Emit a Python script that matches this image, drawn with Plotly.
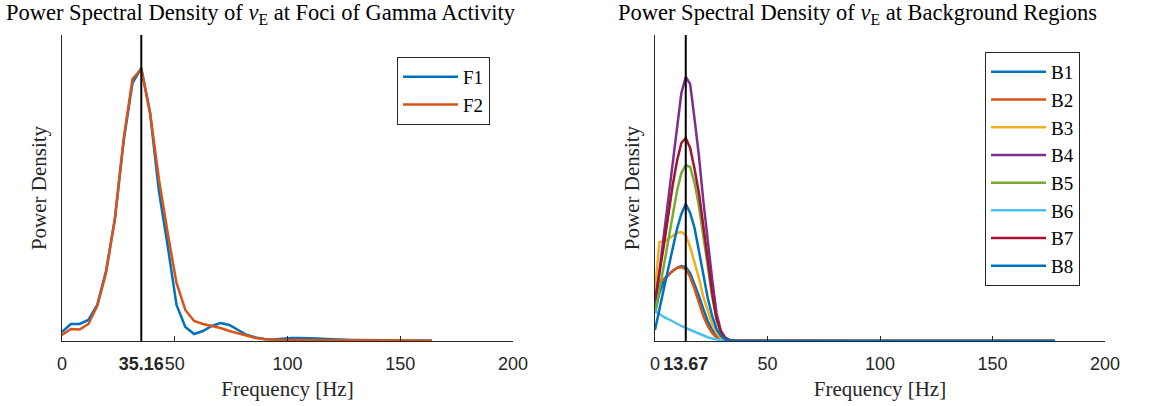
import plotly.graph_objects as go

# ---------------- data ----------------
freq_left = [0, 3.91, 7.81, 11.72, 15.62, 19.53, 23.44, 27.34, 31.25, 35.16, 39.06, 42.97,
             46.88, 50.78, 54.69, 58.59, 62.5, 66.41, 70.31, 74.22, 78.12, 82.03, 85.94,
             89.84, 93.75, 97.66, 101.56, 105.47, 109.38, 113.28, 117.19, 121.09, 125.0,
             128.91, 132.81, 136.72, 140.62, 144.53, 148.44, 152.34, 156.25, 160.16, 164.06]
F1 = [9, 17, 17, 21, 36, 70, 122, 200, 258, 273, 228, 150, 95, 36, 14, 7, 10, 15, 18, 16,
      11, 6, 3.5, 2, 1.5, 2.5, 3, 3, 3, 2.5, 2, 1.5, 1.2, 1, 1, 0.8, 0.8, 0.7, 0.7, 0.6,
      0.6, 0.5, 0.5]
F2 = [6, 12, 11.5, 17, 35, 68, 122, 202, 262, 272, 228, 162, 108, 58, 31, 20, 17, 15, 13,
      10, 7.5, 5, 3, 1.8, 1.2, 1, 0.9, 0.8, 0.8, 0.7, 0.7, 0.6, 0.6, 0.5, 0.5, 0.5, 0.4,
      0.4, 0.4, 0.4, 0.3, 0.3, 0.3]

freq_right = [0, 1.95, 3.91, 5.86, 7.81, 9.77, 11.72, 13.67, 15.62, 17.58, 19.53, 21.48,
              23.44, 25.39, 27.34, 29.30, 31.25, 33.20, 35.16, 50, 100, 150, 177.73]
B1 = [28, 48, 60, 66, 70, 73, 75, 74, 68, 57, 45, 32, 20, 11, 5, 2, 0.6, 0.2, 0.1, 0, 0, 0, 0]
B2 = [38, 58, 62, 66, 70, 73, 74, 72, 64, 52, 38, 25, 15, 8, 3.5, 1.2, 0.4, 0.1, 0.05, 0, 0, 0, 0]
B3 = [51, 99, 99, 102, 105, 108, 109, 106, 94, 78, 63, 44, 30, 17, 8, 3, 1, 0.3, 0.1, 0, 0, 0, 0]
B4 = [34, 70, 105, 140, 175, 215, 248, 264, 257, 222, 185, 140, 100, 62, 28, 10, 3, 1, 0.3, 0, 0, 0, 0]
B5 = [28, 50, 75, 100, 125, 150, 168, 176, 174, 158, 135, 105, 75, 45, 22, 8, 2.5, 0.7, 0.2, 0, 0, 0, 0]
B6 = [30, 27, 24, 22, 19.5, 17, 15, 13, 11, 9, 7, 5.2, 3.8, 2.5, 1.5, 0.8, 0.4, 0.2, 0.1, 0, 0, 0, 0]
B7 = [41, 66, 95, 125, 155, 180, 198, 203, 193, 172, 148, 115, 80, 48, 22, 9, 3, 0.8, 0.2, 0, 0, 0, 0]
B8 = [11, 30, 52, 72, 92, 112, 127, 137, 128, 113, 90, 66, 43, 25, 12, 5, 1.5, 0.5, 0.1, 0, 0, 0, 0]

peak_left = 35.16
peak_right = 13.67
left_names = ["F1", "F2"]
right_names = ["B1", "B2", "B3", "B4", "B5", "B6", "B7", "B8"]
xticks = [0, 50, 100, 150, 200]

# ---------------- styles ----------------
colors_left = ["#0072BD", "#D95319"]
colors_right = ["#0072BD", "#D95319", "#EDB120", "#7E2F8E", "#77AC30", "#4DBEEE", "#A2142F", "#0072BD"]
SERIF = "Liberation Serif"
SANS = "Liberation Sans, Arial"
AX = "#262626"
W, H = 1153, 406

fig = go.Figure()
for name, ys, c in zip(left_names, [F1, F2], colors_left):
    fig.add_trace(go.Scatter(x=freq_left, y=ys, name=name, mode="lines",
                             line=dict(color=c, width=2.5), xaxis="x", yaxis="y",
                             legend="legend"))
for name, ys, c in zip(right_names, [B1, B2, B3, B4, B5, B6, B7, B8], colors_right):
    fig.add_trace(go.Scatter(x=freq_right, y=ys, name=name, mode="lines",
                             line=dict(color=c, width=2.5), xaxis="x2", yaxis="y2",
                             legend="legend2"))

def px_x(p):
    return p / W

def px_y(p):
    return 1 - p / H

ydom = [px_y(341), px_y(35)]

def xaxis_cfg(dom, peak, anchor):
    vals = sorted(xticks + [peak])
    text = [("<b>%.2f</b>" % v) if v == peak else str(int(v)) for v in vals]
    return dict(domain=dom, range=[0, 200], anchor=anchor, tickmode="array",
                tickvals=vals, ticktext=text, ticks="inside", ticklen=5, tickwidth=1,
                tickangle=0, automargin=False, ticklabelstandoff=6,
                tickcolor=AX, showline=True, linecolor=AX, linewidth=1, showgrid=False,
                zeroline=False, tickfont=dict(family=SANS, size=18, color=AX),
                title=dict(text="Frequency [Hz]", font=dict(family=SERIF, size=21, color=AX),
                           standoff=8))

def yaxis_cfg(anchor):
    return dict(domain=ydom, range=[0, 306], anchor=anchor, showticklabels=False,
                ticks="", showline=True, linecolor=AX, linewidth=1, showgrid=False,
                zeroline=False, automargin=False,
                title=dict(text="Power Density", font=dict(family=SERIF, size=21, color=AX),
                           standoff=8))

fig.update_layout(
    width=W, height=H, margin=dict(l=0, r=0, t=0, b=0, autoexpand=False),
    plot_bgcolor="white", paper_bgcolor="white",
    xaxis=xaxis_cfg([px_x(62), px_x(513)], peak_left, "y"),
    yaxis=yaxis_cfg("x"),
    xaxis2=xaxis_cfg([px_x(655), px_x(1105)], peak_right, "y2"),
    yaxis2=yaxis_cfg("x2"),
    legend=dict(x=px_x(397), y=px_y(57), xanchor="left", yanchor="top",
                bgcolor="white", bordercolor=AX, borderwidth=1,
                font=dict(family=SERIF, size=19, color="black"), itemwidth=55),
    legend2=dict(x=px_x(985), y=px_y(52), xanchor="left", yanchor="top",
                 bgcolor="white", bordercolor=AX, borderwidth=1,
                 font=dict(family=SERIF, size=19, color="black"), itemwidth=55),
    showlegend=True,
)

for xref, peak in [("x", peak_left), ("x2", peak_right)]:
    yref = "y domain" if xref == "x" else "y2 domain"
    fig.add_shape(type="line", xref=xref, yref=yref, x0=peak, x1=peak, y0=0, y1=1,
                  line=dict(color="black", width=2))

titles = [("Power Spectral Density of <i>v</i><sub>E</sub> at Foci of Gamma Activity", 261),
          ("Power Spectral Density of <i>v</i><sub>E</sub> at Background Regions", 857)]
for txt, cx in titles:
    fig.add_annotation(text=txt, x=px_x(cx), y=px_y(14), xref="paper", yref="paper",
                       xanchor="center", yanchor="middle", showarrow=False,
                       font=dict(family=SERIF, size=22.5, color="black"))

fig.write_html("out.html")
